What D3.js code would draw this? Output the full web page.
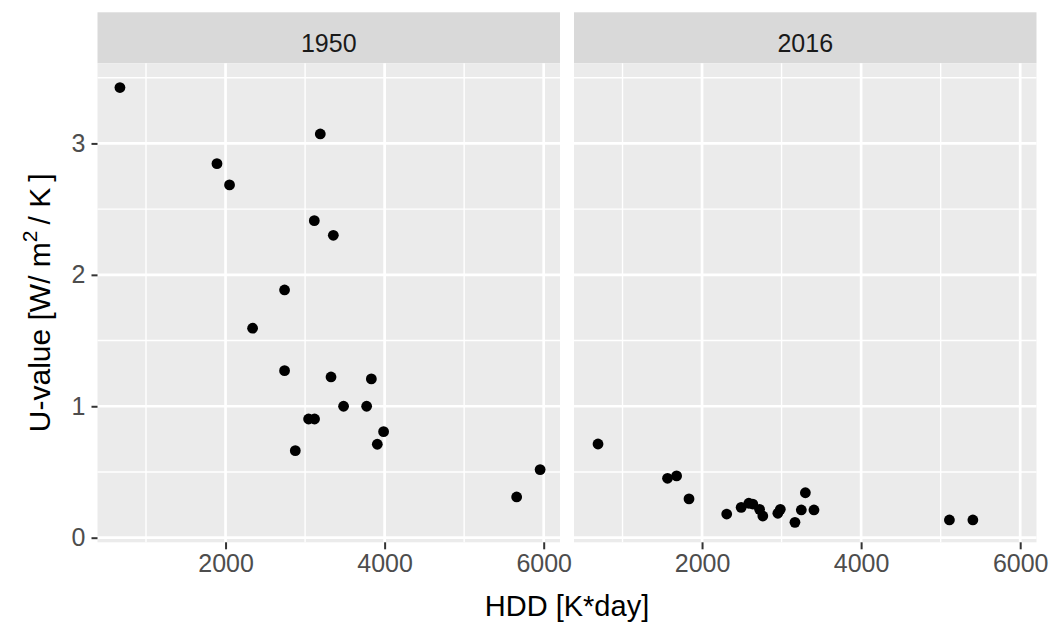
<!DOCTYPE html>
<html>
<head>
<meta charset="utf-8">
<script src="https://cdn.jsdelivr.net/npm/d3@7"></script>
<style>
  html, body { margin: 0; padding: 0; background: #ffffff; }
  svg { display: block; }
  text { font-family: "Liberation Sans", Arial, sans-serif; }
</style>
</head>
<body>
<svg id="chart" width="1049" height="626"></svg>
<script>
// Facet labels
const years = ["1950", "2016"];

// Heating degree days per point, 1950 facet
const hdd1950 = [672, 3191, 1892, 2050, 3116, 3355, 2742, 2340, 2742, 3326,
                 3833, 3484, 3774, 3044, 3119, 3987, 3908, 2877, 5955, 5660];
// U-value per point, 1950 facet
const u1950 = [3.425, 3.072, 2.846, 2.684, 2.412, 2.301, 1.885, 1.594, 1.271, 1.223,
               1.208, 1.000, 1.000, 0.903, 0.903, 0.807, 0.711, 0.662, 0.518, 0.310];

// Heating degree days per point, 2016 facet
const hdd2016 = [692, 1566, 1680, 1836, 2310, 2492, 2588, 2638, 2723, 2764,
                 2953, 2984, 3168, 3248, 3299, 3407, 5110, 5405];
// U-value per point, 2016 facet
const u2016 = [0.713, 0.452, 0.470, 0.295, 0.180, 0.231, 0.262, 0.256, 0.216, 0.165,
               0.186, 0.216, 0.117, 0.211, 0.342, 0.211, 0.135, 0.135];

// Axis ticks
const xMajor = [2000, 4000, 6000];
const xMinor = [1000, 3000, 5000];
const yMajor = [0, 1, 2, 3];
const yMinor = [0.5, 1.5, 2.5, 3.5];

// Shared scale limits (data extent plus padding)
const xLimits = [390, 6205];
const yLimits = [-0.035, 3.6095];

const facets = [
  { label: years[0], hdd: hdd1950, u: u1950, x0: 97.5, x1: 560 },
  { label: years[1], hdd: hdd2016, u: u2016, x0: 574, x1: 1036.5 }
];

const stripTop = 12.3, panelTop = 63.3, panelBottom = 542.3;

const svg = d3.select("#chart");

const y = d3.scaleLinear().domain(yLimits).range([panelBottom, panelTop]);

facets.forEach((f, i) => {
  const x = d3.scaleLinear().domain(xLimits).range([f.x0, f.x1]);
  const g = svg.append("g");

  // strip
  g.append("rect")
    .attr("x", f.x0).attr("y", stripTop)
    .attr("width", f.x1 - f.x0).attr("height", panelTop - stripTop)
    .attr("fill", "#D9D9D9");
  g.append("text")
    .attr("x", (f.x0 + f.x1) / 2).attr("y", 51.5)
    .attr("text-anchor", "middle")
    .attr("font-size", 25)
    .attr("fill", "#1A1A1A")
    .text(f.label);

  // panel background
  g.append("rect")
    .attr("x", f.x0).attr("y", panelTop)
    .attr("width", f.x1 - f.x0).attr("height", panelBottom - panelTop)
    .attr("fill", "#EBEBEB");

  // minor grid
  g.selectAll(".vminor").data(xMinor).join("line")
    .attr("x1", d => x(d)).attr("x2", d => x(d))
    .attr("y1", panelTop).attr("y2", panelBottom)
    .attr("stroke", "#ffffff").attr("stroke-width", 1.4);
  g.selectAll(".hminor").data(yMinor).join("line")
    .attr("x1", f.x0).attr("x2", f.x1)
    .attr("y1", d => y(d)).attr("y2", d => y(d))
    .attr("stroke", "#ffffff").attr("stroke-width", 1.4);

  // major grid
  g.selectAll(".vmajor").data(xMajor).join("line")
    .attr("x1", d => x(d)).attr("x2", d => x(d))
    .attr("y1", panelTop).attr("y2", panelBottom)
    .attr("stroke", "#ffffff").attr("stroke-width", 2.7);
  g.selectAll(".hmajor").data(yMajor).join("line")
    .attr("x1", f.x0).attr("x2", f.x1)
    .attr("y1", d => y(d)).attr("y2", d => y(d))
    .attr("stroke", "#ffffff").attr("stroke-width", 2.7);

  // points
  g.selectAll("circle").data(f.hdd.map((h, k) => [h, f.u[k]])).join("circle")
    .attr("cx", d => x(d[0])).attr("cy", d => y(d[1]))
    .attr("r", 5.4)
    .attr("fill", "#000000");

  // x axis
  const xAxis = d3.axisBottom(x).tickValues(xMajor).tickSize(7).tickPadding(5)
    .tickFormat(d3.format("d"));
  const ax = g.append("g").attr("transform", `translate(0,${panelBottom})`).call(xAxis);
  ax.select(".domain").remove();
  ax.selectAll(".tick line").attr("stroke", "#333333").attr("stroke-width", 2);
  ax.selectAll(".tick text")
    .attr("font-size", 25).attr("fill", "#4D4D4D")
    .attr("font-family", "Liberation Sans, Arial, sans-serif");

  // y axis on the first facet only
  if (i === 0) {
    const yAxis = d3.axisLeft(y).tickValues(yMajor).tickSize(6).tickPadding(6)
      .tickFormat(d3.format("d"));
    const ay = g.append("g").attr("transform", `translate(${f.x0},0)`).call(yAxis);
    ay.select(".domain").remove();
    ay.selectAll(".tick line").attr("stroke", "#333333").attr("stroke-width", 2);
    ay.selectAll(".tick text")
      .attr("font-size", 25).attr("fill", "#4D4D4D")
      .attr("font-family", "Liberation Sans, Arial, sans-serif");
  }
});

// x axis title
svg.append("text")
  .attr("x", (facets[0].x0 + facets[1].x1) / 2).attr("y", 616)
  .attr("text-anchor", "middle")
  .attr("font-size", 29)
  .attr("fill", "#000000")
  .text("HDD [K*day]");

// y axis title with superscript
const yt = svg.append("text")
  .attr("transform", `translate(50,${(panelTop + panelBottom) / 2}) rotate(-90)`)
  .attr("text-anchor", "middle")
  .attr("font-size", 30)
  .attr("fill", "#000000");
yt.append("tspan").text("U-value [W/ m");
yt.append("tspan").attr("font-size", 21).attr("dy", -13).text("2");
yt.append("tspan").attr("dy", 13).text("\u2009/ K\u2009]");
</script>
</body>
</html>
